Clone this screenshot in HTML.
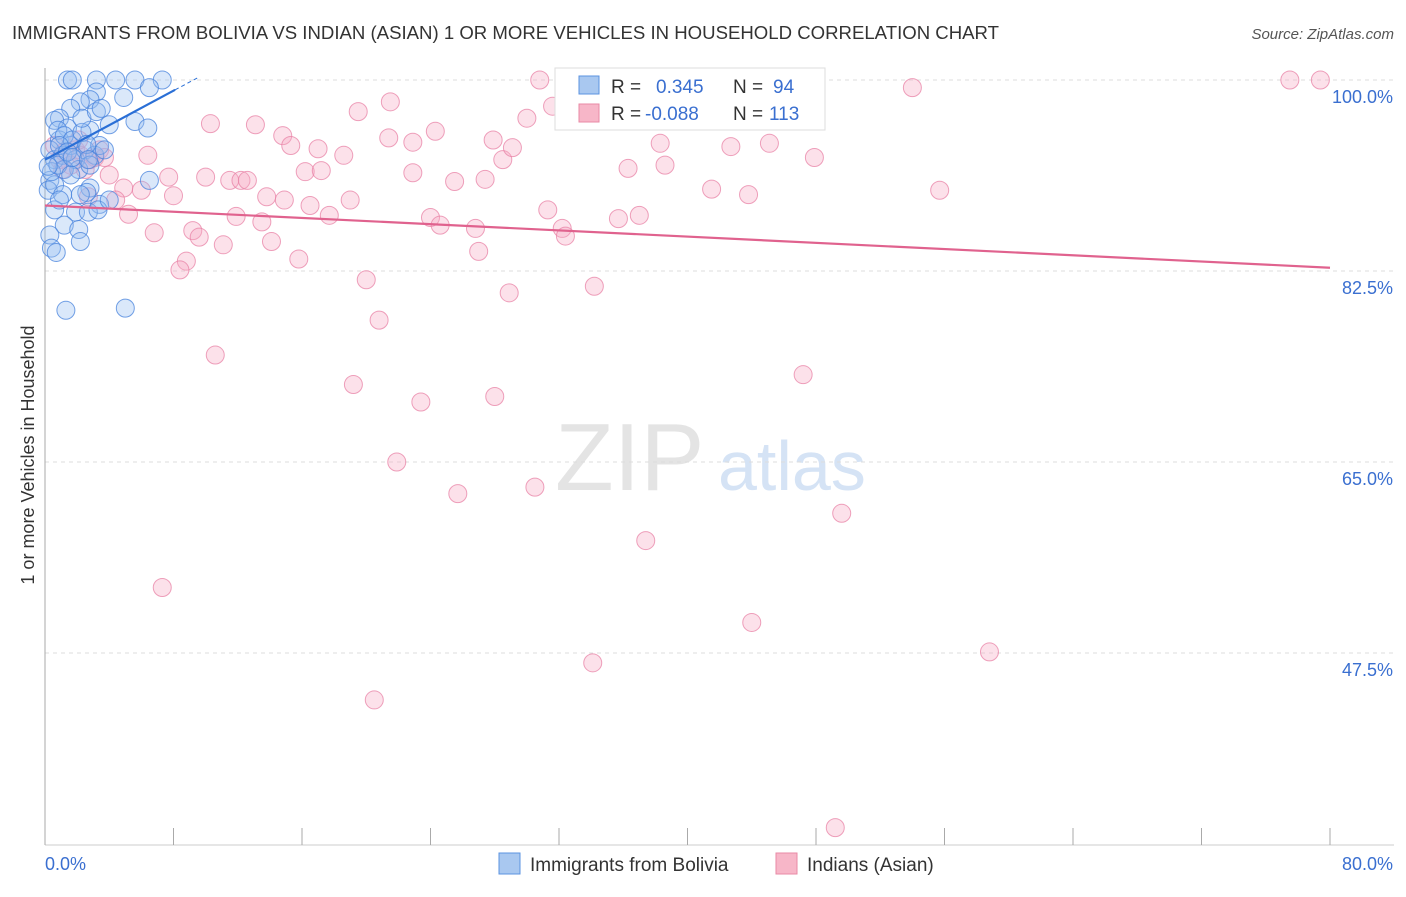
<!DOCTYPE html>
<html><head><meta charset="utf-8"><style>
body{margin:0;background:#fff;font-family:"Liberation Sans",sans-serif;}
svg text{font-family:"Liberation Sans",sans-serif;}
</style></head><body>
<svg width="1406" height="892" xmlns="http://www.w3.org/2000/svg">
<text x="12" y="39" font-size="18.6" fill="#333">IMMIGRANTS FROM BOLIVIA VS INDIAN (ASIAN) 1 OR MORE VEHICLES IN HOUSEHOLD CORRELATION CHART</text>
<text x="1394" y="39" font-size="15" fill="#555" text-anchor="end" font-style="italic">Source: ZipAtlas.com</text>
<g>
<text x="555" y="490" font-size="96" fill="#e4e4e4" font-family="Liberation Serif">ZIP</text>
<text x="718" y="490" font-size="70" fill="#d5e3f5">atlas</text></g>
<g id="grid"></g><g id="axes"></g><g id="pink"></g><g id="blue"></g><g id="trends"></g>
<text transform="translate(34,455) rotate(-90)" font-size="18" fill="#333" text-anchor="middle">1 or more Vehicles in Household</text>
<g>
<rect x="555" y="68" width="270" height="62" fill="#fff" stroke="#ddd"/>
<rect x="579" y="76" width="20" height="18" fill="#a9c8f0" stroke="#5b93e0"/>
<rect x="579" y="104" width="20" height="18" fill="#f7b6c8" stroke="#e88aa6"/>
<text x="611" y="93" font-size="19" fill="#333">R =</text><text x="656" y="93" font-size="19" fill="#3a6fd0">0.345</text>
<text x="733" y="93" font-size="19" fill="#333">N =</text><text x="773" y="93" font-size="19" fill="#3a6fd0">94</text>
<text x="611" y="120" font-size="19" fill="#333">R =</text><text x="645" y="120" font-size="19" fill="#3a6fd0">-0.088</text>
<text x="733" y="120" font-size="19" fill="#333">N =</text><text x="769" y="120" font-size="19" fill="#3a6fd0">113</text></g>
<g>
<rect x="499" y="853" width="21" height="21" fill="#a9c8f0" stroke="#5b93e0"/>
<text x="530" y="871" font-size="19" fill="#333">Immigrants from Bolivia</text>
<rect x="776" y="853" width="21" height="21" fill="#f7b6c8" stroke="#e88aa6"/>
<text x="807" y="871" font-size="19" fill="#333">Indians (Asian)</text></g>
</svg>
<script>
const yTicks=[100,82.5,65,47.5];
const yTickLabels=["100.0%","82.5%","65.0%","47.5%"];
const xTickCount=10;
const xLabels=["0.0%","80.0%"];
const pinkX=[30.8,46.7,77.5,79.4,54.0,46.3,21.5,19.5,31.6,30.0,10.3,13.1,24.3,14.8,21.4,22.9,15.3,27.9,17.0,38.3,45.1,42.7,18.6,6.4,47.9,28.5,29.1,36.3,38.6,16.2,17.2,22.9,25.5,27.4,10.0,11.5,12.2,12.6,7.7,41.5,55.7,43.8,4.9,6.0,8.0,13.8,14.9,19.0,16.5,17.7,31.3,11.9,13.5,24.0,24.6,26.8,37.0,35.7,32.2,32.4,6.8,9.2,9.6,11.1,14.1,15.8,8.8,8.4,27.0,20.0,28.9,34.2,20.8,10.6,19.2,47.2,23.4,28.0,21.9,25.7,30.5,49.6,37.4,7.3,44.0,34.1,58.8,20.5,49.2,4.0,5.2,2.7,4.4,0.9,1.9,3.1,2.5,0.6,1.2,1.6,2.2,2.8,3.4,1.1,2.1,3.7];
const pinkY=[100,100,100,100,99.3,99.8,98.0,97.1,97.6,96.5,96.0,95.9,95.3,94.9,94.7,94.3,94.0,94.5,93.7,94.2,94.2,93.9,93.1,93.1,92.9,92.7,93.8,91.9,92.2,91.6,91.7,91.5,90.7,90.9,91.1,90.8,90.8,90.8,91.1,90.0,89.9,89.5,90.1,89.9,89.4,89.3,89.0,89.0,88.5,87.6,88.1,87.5,87.0,87.4,86.7,86.4,87.6,87.3,86.4,85.7,86.0,86.2,85.6,84.9,85.2,83.6,83.4,82.6,84.3,81.7,80.5,81.1,78.0,74.8,72.1,73.0,70.5,71.0,65.0,62.1,62.7,60.3,57.8,53.5,50.3,46.6,47.6,43.2,31.5,91.3,87.7,89.3,89.0,92.7,93.6,92.9,91.8,94.0,93.4,92.2,93.1,92.7,93.6,91.8,94.5,92.9];
const blueX=[1.4,1.7,3.2,4.4,5.6,7.3,6.5,4.9,3.2,2.8,2.2,1.6,0.9,0.6,1.4,2.8,4.0,5.6,6.4,0.9,0.3,0.6,1.1,1.6,1.9,2.5,3.1,3.4,2.1,1.2,0.3,0.2,0.6,1.1,2.8,3.4,1.9,2.7,1.2,2.1,2.2,0.3,0.4,0.7,1.3,5.0,6.5,0.8,1.2,1.7,2.3,2.6,0.4,0.8,1.6,2.8,3.7,2.3,3.2,3.5,0.9,1.4,1.7,2.7,0.2,0.6,0.9,3.3,4.0,2.6,2.2];
const blueY=[100,100,100,100,100,100,99.3,98.4,98.9,98.2,98.0,97.4,96.5,96.3,95.6,95.4,95.9,96.2,95.6,94.5,93.6,92.7,93.1,94.0,92.7,93.6,93.1,94.0,91.8,91.8,90.8,89.9,90.4,89.5,90.1,88.6,87.9,87.9,86.7,86.3,85.2,85.8,84.6,84.2,78.9,79.1,90.8,95.4,94.9,94.5,95.2,94.1,91.6,92.2,91.3,92.2,93.6,96.5,97.1,97.4,94.0,93.4,92.9,92.7,92.1,88.1,89.0,88.1,89.0,89.7,89.5];
const blueTrend=[[0,92.7],[8.1,99.1],[9.5,100.2]];
const pinkTrend=[[0,88.5],[80,82.8]];
const X0=45,X1=1330,xs=v=>X0+(X1-X0)*v/80;
const ys=v=>80+(100-v)*191/17.5;
const NS="http://www.w3.org/2000/svg";
function mk(p,t,a){const e=document.createElementNS(NS,t);for(const k in a)e.setAttribute(k,a[k]);document.getElementById(p).appendChild(e);return e;}
yTicks.forEach((v,i)=>{
 const l=mk('grid','line',{x1:X0,x2:1394,y1:ys(v),y2:ys(v),stroke:'#ddd','stroke-dasharray':'4,4'});
 
 
 const t=mk('grid','text',{x:1393,y:ys(v)+23,'font-size':18,fill:'#3a6fd0','text-anchor':'end'});t.textContent=yTickLabels[i];
 
 
});
const ax=mk('axes','line',{x1:X0,x2:X0,y1:68,y2:845,stroke:'#aaa'});


const bx=mk('axes','line',{x1:X0,x2:1394,y1:845,y2:845,stroke:'#ccc'});


for(let i=0;i<=xTickCount;i++){const t=mk('axes','line',{x1:xs(i*8),x2:xs(i*8),y1:828,y2:845,stroke:'#aaa'});
 
 }
const xl0=mk('axes','text',{x:45,y:870,'font-size':18,fill:'#3a6fd0'});xl0.textContent=xLabels[0];


const xl1=mk('axes','text',{x:1393,y:870,'font-size':18,fill:'#3a6fd0','text-anchor':'end'});xl1.textContent=xLabels[1];


pinkX.forEach((v,i)=>{const c=mk('pink','circle',{cx:xs(v),cy:ys(pinkY[i]),r:9,fill:'rgba(247,170,195,0.35)',stroke:'rgba(232,130,165,0.75)','stroke-width':1});
 
 });
blueX.forEach((v,i)=>{const c=mk('blue','circle',{cx:xs(v),cy:ys(blueY[i]),r:9,fill:'rgba(150,190,240,0.35)',stroke:'rgba(70,130,220,0.75)','stroke-width':1});
 
 });
const pt=mk('trends','line',{x1:xs(pinkTrend[0][0]),y1:ys(pinkTrend[0][1]),x2:xs(pinkTrend[1][0]),y2:ys(pinkTrend[1][1]),stroke:'#e0628e','stroke-width':2.2});


const bt=mk('trends','line',{x1:xs(blueTrend[0][0]),y1:ys(blueTrend[0][1]),x2:xs(blueTrend[1][0]),y2:ys(blueTrend[1][1]),stroke:'#2a6fd6','stroke-width':2.2});


const bd=mk('trends','line',{x1:xs(blueTrend[1][0]),y1:ys(blueTrend[1][1]),x2:xs(blueTrend[2][0]),y2:ys(blueTrend[2][1]),stroke:'#2a6fd6','stroke-width':1,'stroke-dasharray':'4,3'});


</script>
</body></html>
